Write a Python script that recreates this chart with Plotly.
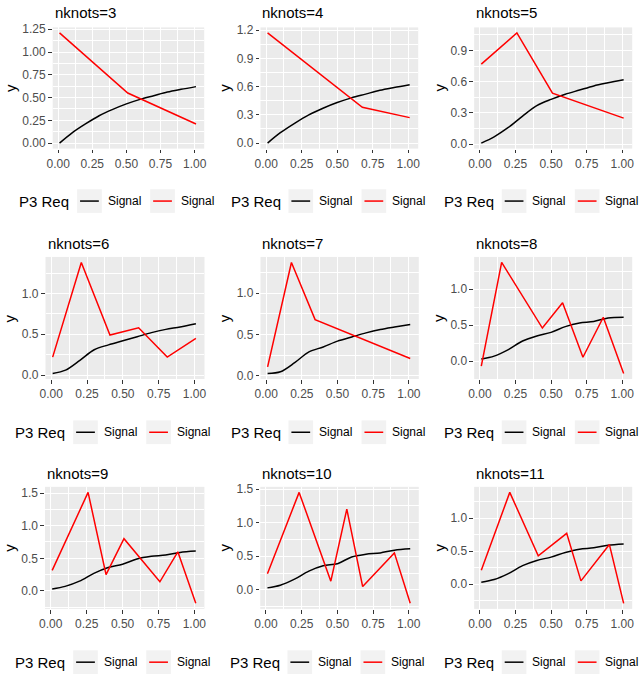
import numpy as np
import plotly.graph_objects as go

# ---------------- data ----------------
nknots = [3, 4, 5, 6, 7, 8, 9, 10, 11]

signal_x = [0.01, 0.10, 0.20, 0.30, 0.40, 0.50, 0.60, 0.70, 0.80, 0.90, 1.01]
signal_y = {
    3:  [0.00, 0.11, 0.21, 0.30, 0.37, 0.43, 0.48, 0.52, 0.56, 0.59, 0.62],
    4:  [0.00, 0.11, 0.21, 0.30, 0.37, 0.43, 0.48, 0.52, 0.56, 0.59, 0.62],
    5:  [0.01, 0.07, 0.16, 0.27, 0.37, 0.43, 0.48, 0.52, 0.56, 0.59, 0.62],
    6:  [0.02, 0.06, 0.18, 0.31, 0.37, 0.42, 0.47, 0.52, 0.56, 0.59, 0.63],
    7:  [0.03, 0.05, 0.16, 0.29, 0.35, 0.42, 0.47, 0.52, 0.56, 0.59, 0.62],
    8:  [0.03, 0.07, 0.16, 0.28, 0.35, 0.40, 0.48, 0.53, 0.55, 0.60, 0.61],
    9:  [0.03, 0.07, 0.15, 0.27, 0.36, 0.41, 0.49, 0.53, 0.55, 0.59, 0.61],
    10: [0.03, 0.07, 0.16, 0.28, 0.36, 0.39, 0.49, 0.53, 0.55, 0.59, 0.61],
    11: [0.03, 0.07, 0.16, 0.28, 0.36, 0.41, 0.48, 0.53, 0.55, 0.59, 0.61],
}

req_x = {
    3:  [0.01, 0.51, 1.01],
    4:  [0.01, 0.677, 1.01],
    5:  [0.01, 0.26, 0.51, 1.01],
    6:  [0.01, 0.21, 0.41, 0.61, 0.81, 1.01],
    7:  [0.01, 0.177, 0.343, 1.01],
    8:  [0.01, 0.153, 0.439, 0.581, 0.724, 0.867, 1.01],
    9:  [0.01, 0.26, 0.385, 0.51, 0.76, 0.885, 1.01],
    10: [0.01, 0.232, 0.454, 0.566, 0.677, 0.899, 1.01],
    11: [0.01, 0.21, 0.41, 0.61, 0.71, 0.91, 1.01],
}
req_y = {
    3:  [1.21, 0.55, 0.21],
    4:  [1.17, 0.38, 0.27],
    5:  [0.77, 1.07, 0.49, 0.25],
    6:  [0.22, 1.38, 0.49, 0.58, 0.22, 0.45],
    7:  [0.11, 1.37, 0.68, 0.21],
    8:  [-0.07, 1.37, 0.46, 0.81, 0.055, 0.61, -0.17],
    9:  [0.315, 1.51, 0.25, 0.80, 0.14, 0.60, -0.19],
    10: [0.24, 1.45, 0.13, 1.20, 0.05, 0.55, -0.20],
    11: [0.21, 1.39, 0.43, 0.77, 0.05, 0.60, -0.29],
}

y_dtick = [0.25, 0.3, 0.3, 0.5, 0.5, 0.5, 0.5, 0.5, 0.5]
y_fmt = ["{:.2f}", "{:.1f}", "{:.1f}", "{:.1f}", "{:.1f}", "{:.1f}", "{:.1f}", "{:.1f}", "{:.1f}"]
x_ticks = [0.0, 0.25, 0.5, 0.75, 1.0]
x_minor = [0.125, 0.375, 0.625, 0.875]
legend_title = "P3 Req"
legend_labels = ["Signal", "Signal"]
legend_colors = ["black", "#FF0000"]

# ---------------- layout (pixels) ----------------
W, H = 641, 679
L = [47.3, 257.7, 474.1, 40.0, 257.7, 474.1, 39.5, 257.5, 474.1]
R = [200.7, 417.4, 634.1, 201.0, 418.0, 634.1, 200.9, 418.0, 634.1]
ROWS = [(22.7, 145.5), (255.3, 379.0), (488.3, 612.0)]
TITLE_Y = [7.3, 241.3, 474.5]
YLAB_X = [5, 221.5, 439, 4.5, 222, 438.5, 4, 221.5, 439]
LEG_BOX = [72, 286, 502, 68, 286, 502, 68, 285, 502]
LEG_Y = [198.7, 433.0, 666.0]

FONT = "Liberation Sans, Arial, Helvetica, sans-serif"
px = lambda x: x / W
py = lambda y: 1 - y / H

fig = go.Figure()
annotations = []
shapes = []

for i, k in enumerate(nknots):
    sfx = "" if i == 0 else str(i + 1)
    row = i // 3
    top, bot = ROWS[row]

    fig.add_trace(go.Scatter(
        x=signal_x, y=signal_y[k], mode="lines", name="Signal",
        line=dict(color="black", width=1.5, shape="spline", smoothing=0.9),
        xaxis="x" + sfx, yaxis="y" + sfx, showlegend=False, hoverinfo="skip"))
    fig.add_trace(go.Scatter(
        x=req_x[k], y=req_y[k], mode="lines", name="Signal",
        line=dict(color="#FF0000", width=1.5),
        xaxis="x" + sfx, yaxis="y" + sfx, showlegend=False, hoverinfo="skip"))

    allv = np.array(signal_y[k] + req_y[k])
    lo, hi = allv.min(), allv.max()
    pad = 0.05 * (hi - lo)
    yr = [lo - pad, hi + pad]
    d = y_dtick[i]
    majors = [round(v * d, 6) for v in range(int(np.ceil(yr[0] / d)), int(np.floor(yr[1] / d)) + 1)]
    minors = [round(m + d / 2, 6) for m in [majors[0] - d] + majors if yr[0] <= m + d / 2 <= yr[1]]

    common = dict(
        showgrid=True, gridcolor="white", gridwidth=1.4, zeroline=False, showline=False,
        ticks="outside", ticklen=3.7, tickwidth=1.4, tickcolor="#333333",
        tickfont=dict(family=FONT, size=12, color="#4D4D4D"), tickmode="array",
    )
    fig.layout["xaxis" + sfx] = dict(
        common, domain=[px(L[i]), px(R[i])], range=[-0.04, 1.07], anchor="y" + sfx,
        tickvals=x_ticks, ticktext=["{:.2f}".format(v) for v in x_ticks],
        minor=dict(tickmode="array", tickvals=x_minor, showgrid=True, gridcolor="white", gridwidth=0.7, ticks=""),
    )
    fig.layout["yaxis" + sfx] = dict(
        common, domain=[py(bot), py(top)], range=yr, anchor="x" + sfx,
        tickvals=majors, ticktext=[y_fmt[i].format(v) for v in majors],
        minor=dict(tickmode="array", tickvals=minors, showgrid=True, gridcolor="white", gridwidth=0.7, ticks=""),
    )

    # panel title
    annotations.append(dict(
        text="nknots=%d" % k, x=px(L[i]), y=py(TITLE_Y[row]), xref="paper", yref="paper",
        xanchor="left", yanchor="middle", showarrow=False,
        font=dict(family=FONT, size=15, color="black")))
    # y axis title
    annotations.append(dict(
        text="y", x=px(YLAB_X[i]), y=py((top + bot) / 2), xref="paper", yref="paper",
        xanchor="center", yanchor="middle", showarrow=False, textangle=-90,
        font=dict(family=FONT, size=15, color="black")))

    # legend (per panel)
    ly = LEG_Y[row]
    b = LEG_BOX[i]
    annotations.append(dict(
        text=legend_title, x=px(b - 6), y=py(ly), xref="paper", yref="paper",
        xanchor="right", yanchor="middle", showarrow=False,
        font=dict(family=FONT, size=15, color="black")))
    for j, (lab, col) in enumerate(zip(legend_labels, legend_colors)):
        bx = b + 74 * j
        shapes.append(dict(type="rect", xref="paper", yref="paper",
                           x0=px(bx), x1=px(bx + 25), y0=py(ly + 12), y1=py(ly - 12),
                           fillcolor="#F2F2F2", line=dict(width=0), layer="below"))
        shapes.append(dict(type="line", xref="paper", yref="paper",
                           x0=px(bx + 3), x1=px(bx + 22), y0=py(ly), y1=py(ly),
                           line=dict(color=col, width=1.5)))
        annotations.append(dict(
            text=lab, x=px(bx + 29), y=py(ly), xref="paper", yref="paper",
            xanchor="left", yanchor="middle", showarrow=False,
            font=dict(family=FONT, size=12, color="black")))

fig.update_layout(
    width=W, height=H, margin=dict(l=0, r=0, t=0, b=0),
    paper_bgcolor="white", plot_bgcolor="#EBEBEB",
    font=dict(family=FONT, size=12, color="black"),
    annotations=annotations, shapes=shapes, showlegend=False,
)

fig.write_html(
    "out.html",
    config={"displayModeBar": False},
    post_script="document.body.style.margin='0';document.body.style.padding='0';"
                "document.body.style.overflow='hidden';",
)
